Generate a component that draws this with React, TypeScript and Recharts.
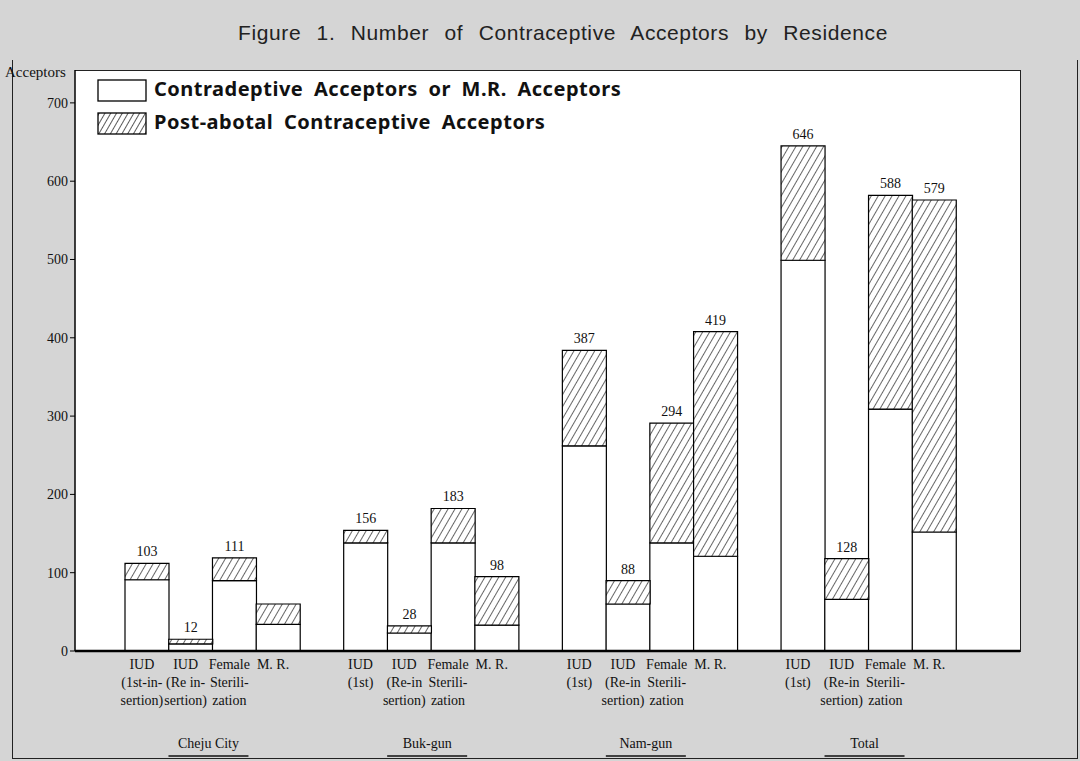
import { BarChart, Bar, XAxis, YAxis, LabelList, Legend } from "recharts";

const groups = ["Cheju City", "Buk-gun", "Nam-gun", "Total"];

const methodLabels = [
  ["IUD", "(1st-in-", "sertion)"],
  ["IUD", "(Re in-", "sertion)"],
  ["Female", "Sterili-", "zation"],
  ["M. R."],
  ["IUD", "(1st)"],
  ["IUD", "(Re-in", "sertion)"],
  ["Female", "Sterili-", "zation"],
  ["M. R."],
  ["IUD", "(1st)"],
  ["IUD", "(Re-in", "sertion)"],
  ["Female", "Sterili-", "zation"],
  ["M. R."],
  ["IUD", "(1st)"],
  ["IUD", "(Re-in", "sertion)"],
  ["Female", "Sterili-", "zation"],
  ["M. R."],
];

// white part of each bar
const contraceptive = [91, 9, 90, 34, 138, 23, 138, 33, 262, 60, 138, 121, 499, 66, 309, 152];
// hatched part on top
const postAbortal = [21, 6, 29, 26, 16, 9, 44, 62, 122, 30, 153, 287, 146, 52, 273, 424];
// numbers printed above the bars
const totalLabels = ["103", "12", "111", "", "156", "28", "183", "98", "387", "88", "294", "419", "646", "128", "588", "579"];

const yTicks = [0, 100, 200, 300, 400, 500, 600, 700];

const legendNames = [
  "Contradeptive Acceptors or M.R.  Acceptors",
  "Post-abotal Contraceptive Acceptors",
];

type Row = { key: string; contra: number | null; post: number | null; label: string; idx: number };

const rows: Row[] = [];
groups.forEach((g, gi) => {
  for (let m = 0; m < 4; m++) {
    const i = gi * 4 + m;
    rows.push({ key: `b${i}`, contra: contraceptive[i], post: postAbortal[i], label: totalLabels[i], idx: i });
  }
  if (gi < groups.length - 1) rows.push({ key: `gap${gi}`, contra: null, post: null, label: "", idx: -1 });
});

const SLOT = 831 / 19;
const serif = "'Liberation Serif', 'DejaVu Serif', serif";

function XTick(props: any) {
  const { x, y, payload } = props;
  const row = rows.find((r) => r.key === payload.value);
  if (!row || row.idx < 0) return null;
  const lines = methodLabels[row.idx];
  const isFirst = row.idx % 4 === 0;
  const gi = Math.floor(row.idx / 4);
  const gx = x + 1.5 * SLOT - 4;
  return (
    <g>
      {lines.map((l, k) => (
        <text key={k} x={x - 5} y={y + 10 + k * 18} textAnchor="middle" fontFamily={serif} fontSize={14} fill="#111">
          {l}
        </text>
      ))}
      {isFirst && (
        <g>
          <text x={gx} y={y + 89} textAnchor="middle" fontFamily={serif} fontSize={14} fill="#111">
            {groups[gi]}
          </text>
          <line x1={gx - 40} x2={gx + 40} y1={y + 97} y2={y + 97} stroke="#111" strokeWidth={1.6} />
        </g>
      )}
    </g>
  );
}

function LegendBox() {
  const font = { fontFamily: "'Noto Sans', sans-serif", fontWeight: 700, fontSize: 20, letterSpacing: 0.5, wordSpacing: 5, fill: "#111" };
  return (
    <svg width={600} height={62}>
      <defs>
        <pattern id="hatchLeg" patternUnits="userSpaceOnUse" width={5} height={5} patternTransform="rotate(30)">
          <rect width={5} height={5} fill="#fff" />
          <line x1={0} y1={0} x2={0} y2={5} stroke="#000" strokeWidth={1.3} />
        </pattern>
      </defs>
      <rect x={1} y={4} width={48} height={21} fill="#fff" stroke="#000" strokeWidth={1.3} />
      <text x={57} y={20} {...font}>
        {legendNames[0]}
      </text>
      <rect x={1} y={37} width={48} height={21} fill="url(#hatchLeg)" stroke="#000" strokeWidth={1.3} />
      <text x={57} y={53} {...font}>
        {legendNames[1]}
      </text>
    </svg>
  );
}

export default function App() {
  return (
    <div style={{ position: "relative", width: 1080, height: 761, background: "#d5d5d5", overflow: "hidden" }}>
      <style>{"body{margin:0}"}</style>
      <div
        style={{
          position: "absolute",
          left: 12,
          top: 60,
          width: 1064,
          height: 698,
          borderLeft: "1.5px solid #222",
          borderRight: "1.5px solid #222",
          borderBottom: "1.5px solid #222",
        }}
      />
      <div
        style={{
          position: "absolute",
          left: 75,
          top: 70,
          width: 945,
          height: 581,
          background: "#fff",
          borderTop: "1.5px solid #222",
          borderRight: "1.5px solid #222",
        }}
      />
      <div
        style={{
          position: "absolute",
          top: 21,
          left: 0,
          width: 1126,
          textAlign: "center",
          fontFamily: "'Liberation Sans', Arial, sans-serif",
          fontSize: 21,
          wordSpacing: 9,
          letterSpacing: 0.6,
          color: "#222",
        }}
      >
        Figure 1.  Number of Contraceptive Acceptors by Residence
      </div>
      <div style={{ position: "absolute", left: 0, top: 0 }}>
        <BarChart
          width={1080}
          height={761}
          data={rows}
          margin={{ top: 70, right: 60, left: 15, bottom: 10 }}
          barCategoryGap={0}
          barGap={0}
        >
          <defs>
            <pattern id="hatch" patternUnits="userSpaceOnUse" width={6} height={6} patternTransform="rotate(30)">
              <rect width={6} height={6} fill="#fff" />
              <line x1={0} y1={0} x2={0} y2={6} stroke="#000" strokeWidth={1.2} />
            </pattern>
          </defs>
          <XAxis
            dataKey="key"
            interval={0}
            height={100}
            padding={{ left: 50, right: 64 }}
            tickLine={false}
            axisLine={{ stroke: "#000", strokeWidth: 2.5 }}
            tick={<XTick />}
          />
          <YAxis
            width={60}
            domain={[0, 742]}
            ticks={yTicks}
            tickSize={5}
            tickLine={{ stroke: "#000" }}
            axisLine={{ stroke: "#000", strokeWidth: 1.5 }}
            tick={{ fontFamily: serif, fontSize: 14, fill: "#111" }}
            label={{
              content: () => (
                <text x={5} y={77} fontFamily={serif} fontSize={15} fill="#111">
                  Acceptors
                </text>
              ),
            }}
          />
          <Legend
            layout="vertical"
            align="center"
            verticalAlign="middle"
            wrapperStyle={{ position: "absolute", top: 76, left: 97, width: 600 }}
            content={() => <LegendBox />}
          />
          <Bar dataKey="contra" stackId="a" fill="#fff" stroke="#000" strokeWidth={1.2} isAnimationActive={false} />
          <Bar dataKey="post" stackId="a" fill="url(#hatch)" stroke="#000" strokeWidth={1.2} isAnimationActive={false}>
            <LabelList dataKey="label" position="top" offset={7} fontFamily={serif} fontSize={14} fill="#111" />
          </Bar>
        </BarChart>
      </div>
    </div>
  );
}
